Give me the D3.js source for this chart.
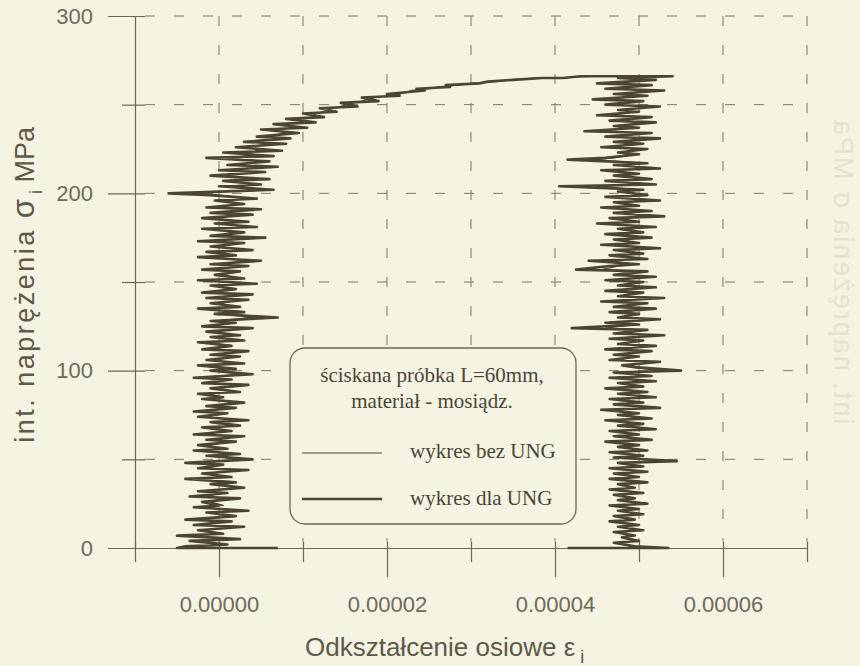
<!DOCTYPE html>
<html>
<head>
<meta charset="utf-8">
<script src="https://cdn.jsdelivr.net/npm/d3@7"></script>
<style>
  body { margin: 0; background: #f5f3e1; }
  svg { display: block; }
</style>
</head>
<body>
<svg id="chart" width="860" height="666"></svg>
<script>
// naprężenie [MPa] - gałąź obciążenia
const loadStress = [
  0, 0, 1, 2, 4, 5, 7, 8, 10, 12,
  13, 15, 16, 18, 20, 21, 23, 24, 26, 28,
  29, 31, 32, 34, 36, 37, 39, 40, 42, 44,
  45, 47, 48, 50, 52, 53, 55, 56, 58, 60,
  61, 63, 64, 66, 68, 69, 71, 72, 74, 76,
  77, 79, 80, 82, 84, 85, 87, 88, 90, 92,
  93, 95, 96, 98, 100, 101, 103, 104, 106, 108,
  109, 111, 112, 114, 116, 117, 119, 120, 122, 124,
  125, 127, 128, 130, 132, 133, 135, 136, 138, 140,
  141, 143, 144, 146, 148, 149, 151, 152, 154, 156,
  157, 159, 160, 162, 164, 165, 167, 168, 170, 172,
  173, 175, 176, 178, 180, 181, 183, 184, 186, 188,
  189, 191, 192, 194, 196, 197, 199, 200, 202, 204,
  205, 207, 208, 210, 212, 213, 215, 216, 218, 220,
  221, 223, 224, 226, 228, 229, 231, 232, 234, 236,
  237, 239, 240, 242, 243, 245, 246, 248, 249, 251,
  252, 254, 255, 256, 258, 259, 260, 261, 262, 263,
  264, 265, 265, 266, 266, 266
]
// naprężenie [MPa] - gałąź odciążenia
const unloadStress = [
  266, 265, 264, 262, 261, 259, 258, 256, 255, 253,
  252, 250, 249, 247, 246, 244, 243, 241, 240, 238,
  237, 235, 234, 232, 231, 229, 228, 226, 225, 223,
  222, 220, 219, 217, 216, 214, 213, 211, 210, 208,
  207, 205, 204, 202, 201, 199, 198, 196, 195, 193,
  192, 190, 189, 187, 186, 184, 183, 181, 180, 178,
  177, 175, 174, 172, 171, 169, 168, 166, 165, 163,
  162, 160, 159, 157, 156, 154, 153, 151, 150, 148,
  147, 145, 144, 142, 141, 139, 138, 136, 135, 133,
  132, 130, 129, 127, 126, 124, 123, 121, 120, 118,
  117, 115, 114, 112, 111, 109, 108, 106, 105, 103,
  102, 100, 99, 97, 96, 94, 93, 91, 90, 88,
  87, 85, 84, 82, 81, 79, 78, 76, 75, 73,
  72, 70, 69, 67, 66, 64, 63, 61, 60, 58,
  57, 55, 54, 52, 51, 49, 48, 46, 45, 43,
  42, 40, 39, 37, 36, 34, 33, 31, 30, 28,
  27, 25, 24, 22, 21, 19, 18, 16, 15, 13,
  12, 10, 9, 7, 6, 4, 3, 1, 0, 0
]

// odkształcenie [1e-6] - wykres dla UNG (gruba linia)
const dlaLoad = [
  7, -5, -4, 1, -3.5, 2.5, -5, 0.5, -2.5, 3,
  -3, 1.5, -4, 2, -1.5, 3.5, -3, 0, -2, 2.5,
  -3.5, 1, -2.5, 3, -1, 2, -4, 1.5, -2, 3.5,
  -2.5, 0.5, -4, 4, -1.5, 2.5, -3, 1, -2.5, 2,
  -1.5, 3, -3, 1.5, -2, 2.5, -1, 3.5, -2.5, 1,
  -3, 2, -1.5, 3, -2, 0.5, -2.5, 2.5, -1, 3.5,
  -2, 1.5, -3, 4, -1, 2, -2.5, 3, -1.5, 2.5,
  -1, 3.5, -2, 1.5, -2.5, 3, -1, 2.5, -1.5, 4,
  -2, 2, -1, 7, -0.5, 3, -2.5, 2.5, -1, 3.5,
  -1.5, 4, -2, 2, -1, 4.5, -2.5, 3, -0.5, 2.5,
  -2, 3.5, -1, 5, -2.5, 2, -1.5, 4, -1, 3,
  -2.5, 5.5, -1, 3, -2, 4.5, -0.5, 3.5, -2, 4,
  -1, 5, -1.5, 3, -0.5, 4.5, -1, -6, 6.5, 0,
  5, 0.5, 6, -1, 5.5, 0, 7, 1, 6, -1.5,
  6.5, 0.5, 7.5, 2, 8, 3, 8.5, 4.5, 9.5, 5,
  10.5, 6.5, 11.5, 8, 12.5, 10, 14, 12, 16.5, 14.5,
  19, 17, 21.5, 20, 24.5, 23.5, 27.5, 27, 31, 32,
  35, 38.5, 41, 43, 48, 54
]
const dlaUnload = [
  54, 47.5, 52, 45, 51.5, 46, 53, 47, 51, 44.5,
  50.5, 46, 52.5, 47.5, 50, 45, 51.5, 46.5, 52, 47,
  50, 43.5, 51.5, 46, 52.5, 47, 50.5, 45.5, 51, 47.5,
  50, 46, 41.5, 51, 47, 52.5, 45.5, 50, 47, 51.5,
  46, 52, 40.5, 50.5, 47.5, 51, 46, 52.5, 47, 50,
  45.5, 51.5, 47, 53, 46.5, 50, 45, 52, 47.5, 50.5,
  46, 51.5, 47, 50, 45.5, 52.5, 47, 50.5, 46.5, 51,
  44, 50, 46.5, 42.5, 51, 47, 52, 46, 50.5, 47.5,
  52, 46, 50.5, 47.5, 53, 45.5, 51, 47, 52, 46.5,
  50, 47.5, 52.5, 46, 50, 42, 51, 47, 53, 46.5,
  50.5, 47.5, 52, 46, 51.5, 47, 50, 46.5, 52.5, 48,
  49.5, 55, 47, 51.5, 46.5, 52, 47.5, 50.5, 46, 51,
  47.5, 52, 46.5, 50.5, 47, 52.5, 45.5, 50, 47.5, 51.5,
  46, 50.5, 47.5, 52, 46.5, 50, 47, 51.5, 46, 50,
  47.5, 51, 46.5, 50.5, 47, 54.5, 47.5, 50.5, 46.5, 51,
  47, 50, 46.5, 51, 47.5, 49.5, 46.5, 50.5, 47, 49.5,
  47.5, 51, 46.5, 50, 47.5, 50.5, 47, 49.5, 46.5, 50,
  47.5, 50.5, 47, 49.5, 48, 50, 47, 49.5, 53.5, 41.5
]

// odkształcenie [1e-6] - wykres bez UNG (cienka linia)
const bezLoad = [
  6, -4, -2.5, 0.5, -2, 1.5, -3, 0, -1.5, 2,
  -2, 1, -2.5, 1, -1, 2, -2, 0.5, -1, 1.5,
  -2, 0.5, -1.5, 2, -0.5, 1.5, -2.5, 1, -1, 2,
  -1.5, 0.5, -2.5, 2.5, -1, 1.5, -2, 0.5, -1.5, 1.5,
  -0.5, 2, -2, 1, -1, 1.5, -0.5, 2, -1.5, 1,
  -2, 1.5, -0.5, 2, -1, 0.5, -1.5, 2, 0, 2,
  -1, 1, -2, 2.5, -0.5, 1.5, -1.5, 2, -0.5, 2,
  0, 2.5, -1, 1.5, -1.5, 2, 0, 2, -0.5, 2.5,
  -1, 1.5, 0, 4, 0, 2, -1.5, 2, 0, 2.5,
  -0.5, 3, -1, 1.5, 0, 3, -1.5, 2, 0.5, 2,
  -1, 2.5, 0, 3.5, -1.5, 1.5, -0.5, 3, 0, 2.5,
  -1.5, 4, 0, 2.5, -1, 3, 0.5, 3, -1, 3,
  0, 3.5, -0.5, 2.5, 0.5, 3.5, 0, -3, 4.5, 1,
  4, 1.5, 4.5, 0.5, 4.5, 1, 5.5, 2, 5, 1,
  5.5, 2, 6, 3, 6.5, 4, 7.5, 5.5, 8, 6.5,
  9, 8, 10, 9.5, 11, 11.5, 12.5, 13.5, 14.5, 16,
  17, 18.5, 20, 21.5, 23, 25, 26, 28.5, 30, 33,
  34.5, 37.5, 40, 44, 49, 53.5
]
const bezUnload = [
  53.5, 48.5, 51, 46.5, 50.5, 47, 52, 48, 50, 46,
  49.5, 47, 51.5, 48, 49.5, 46.5, 50.5, 47.5, 51, 48,
  49.5, 45.5, 50.5, 47, 51.5, 48, 50, 46.5, 50.5, 48,
  49.5, 47, 44.5, 50.5, 48, 51.5, 47, 49.5, 48, 50.5,
  47, 51, 45, 50, 48, 50.5, 47, 51.5, 48, 49.5,
  47, 50.5, 48, 51.5, 47.5, 49.5, 46.5, 51, 48, 50,
  47.5, 50.5, 48, 49.5, 47, 51.5, 48, 50, 47.5, 50.5,
  46.5, 49.5, 47.5, 45.5, 50.5, 48, 51, 47, 50, 48,
  51, 47, 50, 48, 51.5, 47, 50.5, 48, 51, 47.5,
  49.5, 48, 51.5, 47, 49.5, 46, 50.5, 48, 51.5, 47.5,
  50, 48, 51, 47, 50.5, 48, 49.5, 47.5, 51.5, 48.5,
  49, 52.5, 48, 50.5, 47.5, 51, 48, 50, 47, 50.5,
  48, 51, 47.5, 50, 48, 51.5, 47, 49.5, 48, 50.5,
  47, 50, 48, 51, 47.5, 49.5, 48, 50.5, 47, 49.5,
  48, 50.5, 47.5, 50, 48, 52.5, 48, 50, 47.5, 50,
  48, 49.5, 47.5, 50, 48, 49, 47.5, 50, 48, 49,
  48, 50, 47.5, 49.5, 48, 50, 47.5, 49, 47.5, 49.5,
  48, 49.5, 47.5, 49, 48.5, 49.5, 47.5, 49, 53, 42
]

const xTicks = [-1e-5, 0, 1e-5, 2e-5, 3e-5, 4e-5, 5e-5, 6e-5, 7e-5]
const yTicks = [0, 50, 100, 150, 200, 250, 300]

const width = 860, height = 666
const margin = {top: 16, right: 53, bottom: 118, left: 135}

const ink = '#4a4536', axisCol = '#6b6657', labelCol = '#6f6a5d'

const svg = d3.select('#chart')

svg.append('rect')
  .attr('width', width).attr('height', height)
  .attr('fill', '#f5f3e1')

const x = d3.scaleLinear()
  .domain([-1e-5, 7e-5])
  .range([margin.left, width - margin.right])

const y = d3.scaleLinear()
  .domain([0, 300])
  .range([height - margin.bottom, margin.top])

const isMajorX = d => Math.round(d * 1e5) % 2 === 0
const fmt = d3.format('.5f')

// przebijający tekst z drugiej strony kartki (skan)
svg.append('text')
  .attr('transform', 'translate(860,0) scale(-1,1) translate(26,118) rotate(-90)')
  .attr('text-anchor', 'end')
  .attr('fill', '#8d8772')
  .attr('opacity', 0.14)
  .attr('font-family', 'Liberation Sans, Arial, sans-serif')
  .attr('font-size', 27)
  .attr('letter-spacing', 2)
  .text('int. naprężenia σ MPa')

// siatka
const grid = svg.append('g').attr('class', 'grid')

grid.append('g')
  .selectAll('line')
  .data(yTicks.filter(d => d > 0))
  .join('line')
  .attr('x1', x(-1e-5) + 10)
  .attr('x2', x(7e-5))
  .attr('y1', d => y(d))
  .attr('y2', d => y(d))

grid.append('g')
  .selectAll('line')
  .data(xTicks.filter(d => d > -1e-5))
  .join('line')
  .attr('x1', d => x(d))
  .attr('x2', d => x(d))
  .attr('y1', y(300))
  .attr('y2', y(0) - 6)

grid.selectAll('line')
  .attr('stroke', '#7c7767')
  .attr('stroke-width', 1)
  .attr('stroke-dasharray', '10,19')

// oś y
const yAxis = d3.axisLeft(y)
  .tickValues(yTicks)
  .tickSizeInner(27)
  .tickSizeOuter(0)
  .tickPadding(15)
  .tickFormat(d => d % 100 === 0 ? d : '')

const gy = svg.append('g')
  .attr('transform', `translate(${margin.left},0)`)
  .call(yAxis)

gy.selectAll('.tick line')
  .attr('x1', 10)
  .attr('x2', d => d % 100 === 0 ? -27 : -13)

// oś x
const xAxis = d3.axisBottom(x)
  .tickValues(xTicks)
  .tickSizeInner(29)
  .tickSizeOuter(0)
  .tickPadding(19)
  .tickFormat(d => isMajorX(d) && d >= 0 ? fmt(Math.abs(d) < 1e-12 ? 0 : d) : '')

const gx = svg.append('g')
  .attr('transform', `translate(0,${y(0)})`)
  .call(xAxis)

gx.selectAll('.tick line')
  .attr('y1', -6)
  .attr('y2', d => isMajorX(d) && d >= 0 ? 29 : 14)

svg.selectAll('.domain, .tick line')
  .attr('stroke', axisCol)
  .attr('stroke-width', 1.2)

svg.selectAll('.tick text')
  .attr('fill', labelCol)
  .attr('font-family', 'Liberation Sans, Arial, sans-serif')
  .attr('font-size', 22)

// krzywe
const line = d3.line()
  .x(d => x(d[0] * 1e-6))
  .y(d => y(d[1]))

const dla = d3.zip(dlaLoad, loadStress).concat(d3.zip(dlaUnload, unloadStress))
const bez = d3.zip(bezLoad, loadStress).concat(d3.zip(bezUnload, unloadStress))

svg.append('path')
  .datum(dla)
  .attr('d', line)
  .attr('fill', 'none')
  .attr('stroke', ink)
  .attr('stroke-width', 2.6)
  .attr('stroke-linejoin', 'round')

svg.append('path')
  .datum(bez)
  .attr('d', line)
  .attr('fill', 'none')
  .attr('stroke', ink)
  .attr('stroke-width', 1.3)
  .attr('stroke-linejoin', 'round')

// opisy osi
svg.append('text')
  .attr('transform', 'translate(34,127) rotate(-90)')
  .attr('text-anchor', 'end')
  .attr('fill', '#5e594b')
  .attr('font-family', 'Liberation Sans, Arial, sans-serif')
  .attr('font-size', 27)
  .call(t => {
    t.append('tspan').attr('letter-spacing', 2.5).text('int. naprężenia ')
    t.append('tspan').attr('font-size', 31).text('σ')
    t.append('tspan').attr('dy', 8).attr('font-size', 18).text(' i')
    t.append('tspan').attr('dy', -8).text('  MPa')
  })

svg.append('text')
  .attr('x', 305)
  .attr('y', 656)
  .attr('fill', '#5e594b')
  .attr('font-family', 'Liberation Sans, Arial, sans-serif')
  .attr('font-size', 26)
  .call(t => {
    t.append('tspan').text('Odkształcenie osiowe ε')
    t.append('tspan').attr('dy', 7).attr('font-size', 18).text(' i')
  })

// legenda
const lg = svg.append('g')

lg.append('rect')
  .attr('x', 290).attr('y', 348)
  .attr('width', 286).attr('height', 176)
  .attr('rx', 15)
  .attr('fill', '#f5f3e1')
  .attr('stroke', axisCol)
  .attr('stroke-width', 1.3)

lg.selectAll('text.title')
  .data(['ściskana próbka L=60mm,', 'materiał - mosiądz.'])
  .join('text')
  .attr('class', 'title')
  .attr('x', 432)
  .attr('y', (d, i) => 382 + i * 26)
  .attr('text-anchor', 'middle')
  .text(d => d)

const entries = [
  {name: 'wykres bez UNG', w: 1.2},
  {name: 'wykres dla UNG', w: 2.7}
]

lg.selectAll('line')
  .data(entries)
  .join('line')
  .attr('x1', 302).attr('x2', 382)
  .attr('y1', (d, i) => 453 + i * 46)
  .attr('y2', (d, i) => 453 + i * 46)
  .attr('stroke', ink)
  .attr('stroke-width', d => d.w)

lg.selectAll('text.entry')
  .data(entries)
  .join('text')
  .attr('class', 'entry')
  .attr('x', 410)
  .attr('y', (d, i) => 458 + i * 47)
  .text(d => d.name)

lg.selectAll('text')
  .attr('fill', '#4a4536')
  .attr('font-family', 'Liberation Serif, Times New Roman, serif')
  .attr('font-size', 21)
</script>
</body>
</html>
